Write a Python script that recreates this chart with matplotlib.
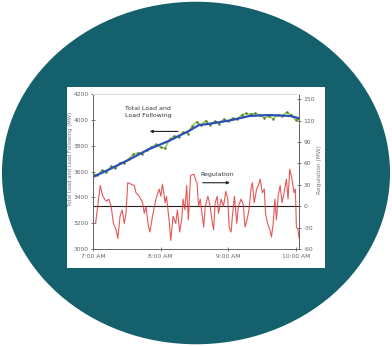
import matplotlib.pyplot as plt
from matplotlib.patches import Ellipse, Rectangle

plt.rcParams['axes.unicode_minus'] = False

# minutes after 7:00 AM
load_t = [0, 4, 8, 12, 16, 20, 24, 28, 32, 36, 40, 44, 48, 52, 56, 60, 64, 68, 72, 76,
          80, 84, 88, 92, 96, 100, 104, 108, 112, 116, 120, 124, 128, 132, 136, 140,
          144, 148, 152, 156, 160, 164, 168, 172, 176, 180, 183]
total_load = [3585, 3570, 3610, 3595, 3640, 3625, 3670, 3665, 3700, 3735, 3745, 3740,
              3765, 3790, 3810, 3790, 3780, 3850, 3875, 3870, 3905, 3895, 3950, 3985,
              3960, 3995, 3960, 3990, 3970, 4005, 3990, 4015, 4005, 4040, 4050, 4045,
              4050, 4040, 4015, 4030, 4010, 4040, 4030, 4060, 4040, 4000, 4010]

follow_t = [0, 14, 32, 49, 67, 85, 94, 104, 122, 139, 157, 175, 183]
load_following = [3559, 3615, 3693, 3771, 3836, 3914, 3960, 3971, 3997, 4031, 4038, 4031, 4013]

reg_t = [2.4, 6.5, 8.8, 11.8, 14.1, 16.2, 18.2, 20.6, 22.1, 24.1, 25.9, 27.9, 29.4,
         30.9, 33.8, 36.8, 38.2, 41.2, 44.1, 45.6, 47.0, 49.4, 50.6, 52.9, 55.9, 58.8,
         60.3, 61.7, 64.1, 65.3, 67.6, 69.1, 71.1, 73.5, 75.0, 77.0, 78.8, 80.0, 81.7,
         83.2, 84.7, 86.7, 89.7, 91.5, 92.4, 93.8, 95.3, 96.8, 98.3, 99.7, 102.1, 104.1,
         105.6, 107.1, 108.5, 110.3, 111.5, 113.8, 115.9, 118.0, 119.7, 120.9, 122.7,
         123.8, 125.6, 127.7, 129.1, 131.5, 133.5, 135.0, 136.8, 138.5, 140.3, 141.5,
         143.2, 145.3, 146.8, 148.5, 150.3, 152.1, 153.2, 155.0, 157.1, 158.5, 160.0,
         161.5, 162.9, 164.4, 166.2, 167.9, 169.7, 171.7, 173.2, 174.7, 176.7, 178.5,
         179.7, 180.6, 182.0, 183.0]
regulation = [-24, 29, 14, 7, 10, 0, -24, -33, -45, -14, -5, -24, -10, 33, 31, 29, 19,
              14, 5, -10, 0, -29, -36, -14, 10, 24, 14, 31, 5, 14, -19, -48, -14, -24,
              -5, -36, -19, 10, -5, 29, -19, 43, 45, 35, 33, 0, 10, -10, -29, 0, 14, 0,
              -19, -33, 5, 14, -10, 10, 0, 21, 10, -29, -36, -14, 14, -24, 0, 10, 2,
              -29, -19, -5, 24, 33, 5, 24, 29, 38, 19, 24, -10, -24, -33, -43, -24, 10,
              -19, 14, 29, 5, 19, 38, 10, 52, 38, 19, 24, -29, -33, -45]

hour_ticks = [0, 60, 120, 180]
hour_labels = ['7:00 AM', '8:00 AM', '9:00 AM', '10:00 AM']

fig = plt.figure(figsize=(3.92, 3.46), dpi=100)
fig.patch.set_facecolor('white')

# teal oval with a white card on top
fig.patches.append(Ellipse((0.5, 0.5), 0.99, 0.99, transform=fig.transFigure,
                           facecolor='#14616d', edgecolor='none', zorder=0))
fig.patches.append(Rectangle((0.171, 0.225), 0.658, 0.524, transform=fig.transFigure,
                             facecolor='white', edgecolor='none', zorder=1))

ax = fig.add_axes([0.237, 0.280, 0.526, 0.448])
ax.set_zorder(3)
ax2 = ax.twinx()
ax2.set_zorder(2)
ax.patch.set_visible(False)
ax2.patch.set_visible(False)

grey = '#666666'

ax2.axhline(0, color='#222222', linewidth=0.8)
ax2.plot(reg_t, regulation, color='#e03a3a', linewidth=0.8, alpha=0.85)
ax2.set_ylim(-60, 157)
ax2.set_yticks(range(-60, 151, 30))

ax.plot(load_t, total_load, color='#8cc63f', linewidth=1.0, marker='.', markersize=1.5,
        markeredgecolor='#4b7a2a')
ax.plot(follow_t, load_following, color='#2b4fb5', linewidth=1.6)
ax.set_ylim(3000, 4200)
ax.set_yticks(range(3000, 4201, 200))
ax.set_xlim(0, 183)
ax.set_xticks(hour_ticks)
ax.set_xticklabels(hour_labels)

for a in (ax, ax2):
    a.tick_params(labelsize=4.3, colors='#666666', length=2.5, width=0.6, direction='inout', pad=2)
    for s in a.spines.values():
        s.set_color(grey)
        s.set_linewidth(0.7)
    a.spines['top'].set_color('#dddddd')

ax.annotate('Total Load and\nLoad Following', xy=(49, 4062), ha='center', va='center',
            fontsize=4.5, color='#333333', linespacing=1.3)
ax.annotate('', xy=(48, 3911), xytext=(78, 3911),
            arrowprops=dict(arrowstyle='-|>', color='#222222', lw=0.8, mutation_scale=4))
ax.annotate('Regulation', xy=(110, 3580), ha='center', va='center',
            fontsize=4.5, color='#333333')
ax.annotate('', xy=(124, 3514), xytext=(95, 3514),
            arrowprops=dict(arrowstyle='-|>', color='#222222', lw=0.8, mutation_scale=4))

fig.text(0.180, 0.54, 'Total Load and Load Following (MW)', rotation=90, fontsize=3.8,
         color='#777777', ha='center', va='center')
fig.text(0.815, 0.51, 'Regulation (MW)', rotation=90, fontsize=4.2,
         color='#777777', ha='center', va='center')

fig.savefig('out.png', dpi=100)
